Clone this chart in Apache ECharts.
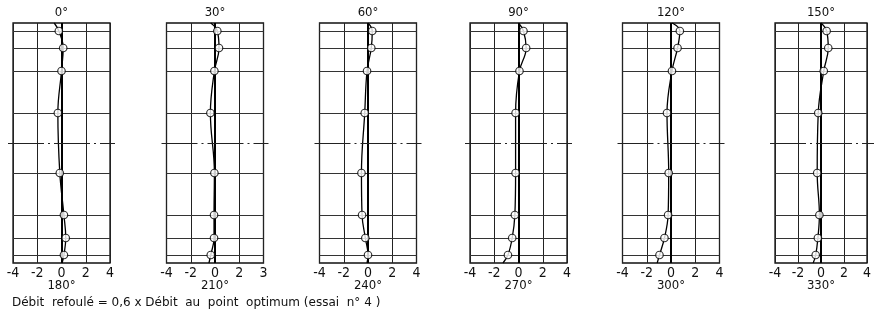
<!DOCTYPE html>
<html>
<head>
<meta charset="utf-8">
<script src="https://cdn.jsdelivr.net/npm/echarts@6/dist/echarts.min.js"></script>
<style>
  html, body { margin: 0; padding: 0; background: #fff; }
  #chart { width: 874px; height: 319px; }
</style>
</head>
<body>
<div id="chart"></div>
<script>
// stations along the height (same for every panel), top to bottom
const stations = [112, 95, 72, 30, -30, -72, -95, -112]
const gridRows = [112, 95, 72, 30, -30, -72, -95, -112]

const topAngles = ['0°', '30°', '60°', '90°', '120°', '150°']
const bottomAngles = ['180°', '210°', '240°', '270°', '300°', '330°']

const tickLabels = [
  ['-4', '-2', '0', '2', '4'],
  ['-4', '-2', '0', '2', '3'],
  ['-4', '-2', '0', '2', '4'],
  ['-4', '-2', '0', '2', '4'],
  ['-4', '-2', '0', '2', '4'],
  ['-4', '-2', '0', '2', '4'],
]

// measured points, one row per panel (top to bottom)
const pts0 = [-0.22, 0.14, 0, -0.3, -0.14, 0.2, 0.35, 0.2]
const pts30 = [0.19, 0.33, -0.05, -0.38, -0.05, -0.08, -0.08, -0.35]
const pts60 = [0.35, 0.27, -0.08, -0.27, -0.54, -0.49, -0.22, 0]
const pts90 = [0.41, 0.63, 0.08, -0.24, -0.24, -0.3, -0.52, -0.87]
const pts120 = [0.73, 0.54, 0.08, -0.33, -0.19, -0.24, -0.54, -0.95]
const pts150 = [0.49, 0.63, 0.24, -0.24, -0.33, -0.14, -0.27, -0.46]
const pointValues = [pts0, pts30, pts60, pts90, pts120, pts150]

// where the drawn curve meets the top and bottom frame
const curveTop = [-0.6, -0.35, 0, 0, 0.1, 0]
const curveBottom = [0.05, -0.5, -0.08, -1.28, -1.14, -0.68]

const footer = 'Débit  refoulé = 0,6 x Débit  au  point  optimum (essai  n° 4 )'

const FONT = "'DejaVu Sans Condensed', 'DejaVu Sans', sans-serif"
const panelLeft = [13, 166.5, 319.5, 470, 622.5, 775]
const panelWidth = 97
const panelTop = 23
const panelHeight = 240
const axisOverhang = 5 // the dash-dot middle line runs a little past each frame

const chart = echarts.init(document.getElementById('chart'), null, { renderer: 'canvas' })

const grid = []
const xAxis = []
const yAxis = []
const series = []
const hiddenAxis = { axisLine: { show: false }, axisTick: { show: false }, axisLabel: { show: false }, splitLine: { show: false } }

panelLeft.forEach((left, i) => {
  grid.push({
    left, top: panelTop, width: panelWidth, height: panelHeight,
    show: true, borderColor: '#111', borderWidth: 1.3, backgroundColor: 'transparent',
  })
  xAxis.push({
    type: 'value', gridIndex: i, min: -4, max: 4, interval: 2,
    axisLine: { show: false },
    axisTick: { show: false },
    axisLabel: {
      margin: 3, fontSize: 14, color: '#111', fontFamily: FONT,
      formatter: (v) => tickLabels[i][Math.round((v + 4) / 2)],
    },
    splitLine: { show: true, lineStyle: { color: '#222', width: 1 } },
    name: bottomAngles[i], nameLocation: 'middle', nameGap: 16, nameMoveOverlap: false,
    nameTextStyle: { fontSize: 13, color: '#111', fontFamily: FONT },
  })
  xAxis.push({
    type: 'value', gridIndex: i, min: -4, max: 4, position: 'top', ...hiddenAxis,
    name: topAngles[i], nameLocation: 'middle', nameGap: 4,
    nameTextStyle: { fontSize: 13, color: '#111', fontFamily: FONT },
  })
  yAxis.push({ type: 'value', gridIndex: i, min: -120, max: 120, ...hiddenAxis })

  const pts = stations.map((y, k) => [pointValues[i][k], y])
  series.push({
    type: 'line', xAxisIndex: 2 * i, yAxisIndex: i,
    data: [[curveTop[i], 120], ...pts, [curveBottom[i], -120]],
    smooth: 0.4, showSymbol: false, silent: true,
    lineStyle: { color: '#000', width: 1.3 },
    markLine: {
      silent: true, symbol: 'none', label: { show: false },
      lineStyle: { color: '#333', width: 1, type: 'solid' },
      data: [
        ...gridRows.map((y) => ({ yAxis: y })),
        { xAxis: 0, lineStyle: { color: '#000', width: 2, type: 'solid' } },
      ],
    },
  })
  series.push({
    type: 'scatter', xAxisIndex: 2 * i, yAxisIndex: i,
    data: pts, symbol: 'circle', symbolSize: 7.5, z: 5, silent: true,
    itemStyle: { color: '#fff', borderColor: '#000', borderWidth: 1.2 },
  })
})

// wider hidden grids, only for the dash-dot middle line of each panel
panelLeft.forEach((left, i) => {
  const g = grid.length
  grid.push({ left: left - axisOverhang, top: panelTop, width: panelWidth + 2 * axisOverhang, height: panelHeight })
  xAxis.push({ type: 'value', gridIndex: g, min: -4, max: 4, ...hiddenAxis })
  yAxis.push({ type: 'value', gridIndex: g, min: -120, max: 120, ...hiddenAxis })
  series.push({
    type: 'line', xAxisIndex: xAxis.length - 1, yAxisIndex: yAxis.length - 1,
    data: [], silent: true,
    markLine: {
      silent: true, symbol: 'none', label: { show: false },
      lineStyle: { color: '#222', width: 1, type: [36, 4, 2, 4] },
      data: [{ yAxis: 0 }],
    },
  })
})

chart.setOption({
  animation: false,
  backgroundColor: '#fff',
  title: {
    text: footer, left: 7, top: 292,
    textStyle: { fontSize: 12, fontWeight: 'normal', color: '#111', fontFamily: "'DejaVu Sans', sans-serif" },
  },
  grid, xAxis, yAxis, series,
})
</script>
</body>
</html>
